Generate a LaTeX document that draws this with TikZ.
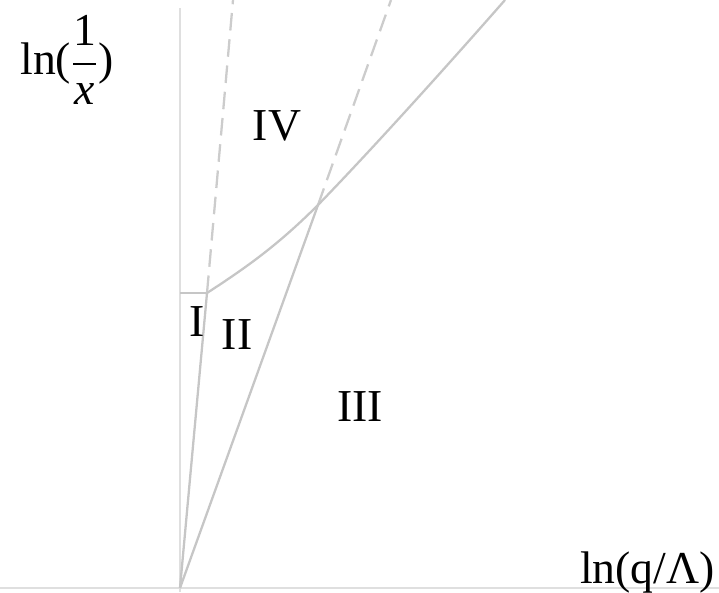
\documentclass[tikz,border=0pt]{standalone}
\usepackage{amsmath}
\usepackage{fontspec}
\setmainfont{Liberation Serif}

\begin{document}
\begin{tikzpicture}[x=0.02cm, y=0.02cm, font=\fontsize{26}{31}\selectfont]
  \useasboundingbox (0,0) rectangle (719,592);

  % Points
  \coordinate (O) at (180,4);
  \coordinate (A) at (207,299);
  \coordinate (B) at (318,387);
  \coordinate (Ay) at (180,299);
  \coordinate (Atop) at (233,592);
  \coordinate (Btop) at (391,592);
  \coordinate (Ctop) at (505,592);
  \coordinate (xend) at (719,4);
  \coordinate (xbeg) at (0,4);
  \coordinate (ytop) at (180,584);
  \coordinate (ybot) at (180,0);

  % Axes
  \draw[line width=1.3pt, gray!25] (xbeg) -- (xend);
  \draw[line width=1.3pt, gray!25] (ybot) -- (ytop);

  % Boundaries
  \draw[line width=1.3pt, gray!45] (Ay) -- (A);
  \draw[line width=1.3pt, gray!45] (O) -- (A);
  \draw[line width=1.3pt, gray!45] (O) -- (B);
  \draw[line width=1.3pt, gray!40, dash pattern=on 10pt off 5pt] (A) -- (Atop);
  \draw[line width=1.3pt, gray!40, dash pattern=on 10pt off 5pt] (B) -- (Btop);
  \draw[line width=1.3pt, gray!45] (A) .. controls (247,325) and (278,347) .. (B)
    .. controls (378,449) and (455,535) .. (Ctop);

  % Labels
  \node (IV) at (277,466) {IV};
  \node (I) at (197,270) {I};
  \node (II) at (237,257) {II};
  \node (III) at (360,185) {III};
  \node[anchor=base west, inner sep=0pt] (ylab) at (20,517)
    {ln($\dfrac{\text{1}}{\textit{x}}$)};
  \node[anchor=base east, inner sep=0pt] (xlab) at (715,9) {ln(q/Λ)};
\end{tikzpicture}
\end{document}
